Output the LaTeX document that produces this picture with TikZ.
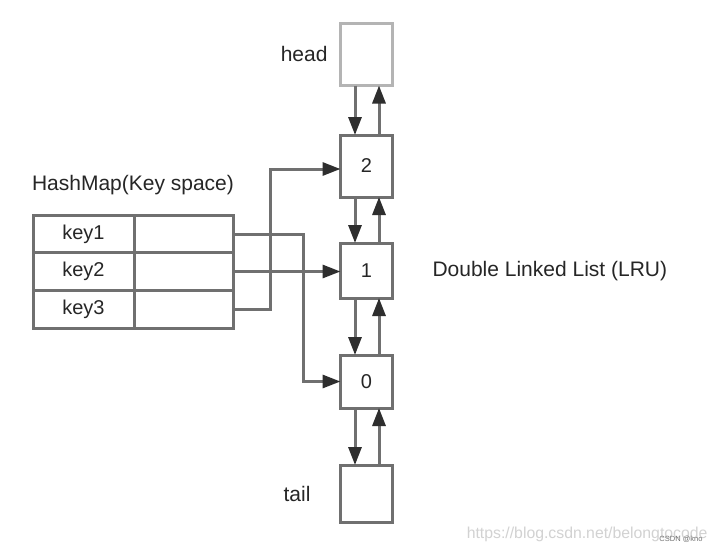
\documentclass[tikz,border=0pt]{standalone}
\usepackage{fontspec}
\setmainfont{Liberation Sans}
\usetikzlibrary{arrows.meta}
\definecolor{linegray}{HTML}{707070}
\definecolor{headgray}{HTML}{B4B4B4}
\definecolor{tipgray}{HTML}{2E2E2E}
\definecolor{wmgray}{HTML}{D2D2D2}
\begin{document}
\begin{tikzpicture}[x=1pt,y=-1pt,
  lbl/.style={font=\fontsize{21}{24}\selectfont, text=black!85},
  listbox/.style={draw=linegray, line width=3pt, minimum width=52pt, inner sep=0pt, outer sep=0pt, fill=white, font=\fontsize{20}{23}\selectfont, text=black!85},
  cell/.style={draw=linegray, line width=3pt, minimum height=37.7pt, inner sep=0pt, outer sep=0pt, font=\fontsize{20}{23}\selectfont, text=black!85},
  conn/.style={draw=linegray, line width=3pt, -{Triangle[length=18pt,width=13pt,color=tipgray]}},
  plain/.style={draw=linegray, line width=3pt}
]
\useasboundingbox (0,0) rectangle (720,552);
\fill[white] (0,0) rectangle (720,552);

% linked list boxes
\node[listbox, draw=headgray, minimum height=62pt] (head) at (366.5,54.5) {};
\node[listbox, minimum height=62pt] (b2) at (366.5,166) {2};
\node[listbox, minimum height=55pt] (b1) at (366.5,270.5) {1};
\node[listbox, minimum height=53pt] (b0) at (366.5,381.5) {0};
\node[listbox, minimum height=57pt] (tail) at (366.5,493.5) {};

% list arrows
\foreach \a/\b in {head/b2, b2/b1, b1/b0, b0/tail}{
  \draw[conn] ([xshift=-11.5pt]\a.south) -- ([xshift=-11.5pt]\b.north);
  \draw[conn] ([xshift=12.5pt]\b.north) -- ([xshift=12.5pt]\a.south);
}

% hashmap table
\node[cell, minimum width=101pt] (k1) at (83.5,234) {key1};
\node[cell, minimum width=99pt] (v1) at (183.5,234) {};
\node[cell, minimum width=101pt] (k2) at (83.5,271.5) {key2};
\node[cell, minimum width=99pt] (v2) at (183.5,271.5) {};
\node[cell, minimum width=101pt] (k3) at (83.5,309.2) {key3};
\node[cell, minimum width=99pt] (v3) at (183.5,309.2) {};

% hash connectors
\draw[conn] (v1.east) -- ++(70,0) |- (b0.west);
\draw[conn] (v2.east) -- (v2.east -| b1.west);
\draw[conn] (v3.east) -- ++(37,0) |- ([yshift=-3pt]b2.west);

% labels
\node[lbl, anchor=east] (headlbl) at (331,54) {head};
\node[lbl] (hmlbl) at (133,185) {HashMap(Key space)};
\node[lbl, anchor=west] (dll) at (429,271) {Double Linked List (LRU)};
\node[lbl, anchor=east] (taillbl) at (314,494) {tail};

% watermark
\node[font=\fontsize{15.8}{19}\selectfont, text=wmgray, anchor=east] (wm) at (711,534) {https://blog.csdn.net/belongtocode};
\node[font=\fontsize{7.5}{9}\selectfont, text=black!55, anchor=east] (wm2) at (706,539) {CSDN @kno};
\end{tikzpicture}
\end{document}
